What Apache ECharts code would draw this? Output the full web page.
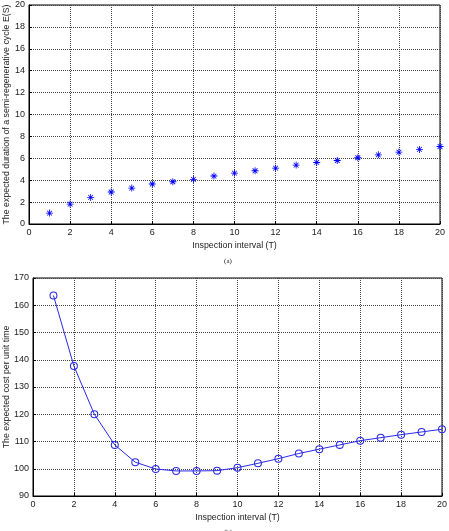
<!DOCTYPE html>
<html>
<head>
<meta charset="utf-8">
<script src="https://cdn.jsdelivr.net/npm/echarts@6/dist/echarts.min.js"></script>
<style>html,body{margin:0;padding:0;background:#fff}#c{width:449px;height:531px}</style>
</head>
<body>
<div id="c"></div>
<script>
var intervals = [1,2,3,4,5,6,7,8,9,10,11,12,13,14,15,16,17,18,19,20];
var durationES = [1.0,1.82,2.43,2.92,3.28,3.65,3.86,4.07,4.38,4.65,4.86,5.1,5.38,5.62,5.8,6.05,6.32,6.57,6.81,7.08];
var costPerTime = [163.6,137.7,120.0,108.75,102.4,99.9,99.2,99.2,99.3,100.4,102.0,103.7,105.6,107.2,108.75,110.3,111.4,112.5,113.5,114.5];
var xTicks = {min:0, max:20, interval:2};
var yTicksTop = {min:0, max:20, interval:2};
var yTicksBottom = {min:90, max:170, interval:10};

function pairs(xs, ys){ return xs.map(function(x,i){ return [x, ys[i]]; }); }

var font = 'Liberation Sans, Arial, sans-serif';
var asterisk = 'path://M4.4,0 L5.6,0 L5.6,10 L4.4,10 Z M0,4.4 L10,4.4 L10,5.6 L0,5.6 Z M1.2,2.0 L2.0,1.2 L8.8,8.0 L8.0,8.8 Z M8.0,1.2 L8.8,2.0 L2.0,8.8 L1.2,8.0 Z';
var ring = 'path://M0,5 A5,5 0 1,1 10,5 A5,5 0 1,1 0,5 Z M1.3,5 A3.7,3.7 0 1,0 8.7,5 A3.7,3.7 0 1,0 1.3,5 Z';

function xAxis(gi){
  return {
    type:'value', gridIndex:gi, min:xTicks.min, max:xTicks.max, interval:xTicks.interval,
    name:'Inspection interval (T)', nameLocation:'middle', nameGap:17, nameMoveOverlap:false,
    nameTextStyle:{fontFamily:font, fontSize:8.8, color:'#222'},
    axisLine:{lineStyle:{color:'#000', width:1}},
    axisTick:{inside:true, length:3, lineStyle:{color:'#000'}},
    axisLabel:{fontFamily:font, fontSize:9, color:'#222', margin:4},
    splitLine:{show:true, lineStyle:{color:'#444', type:[1,1], width:1}}
  };
}
function yAxis(gi, t, name, gap){
  return {
    type:'value', gridIndex:gi, min:t.min, max:t.max, interval:t.interval,
    name:name, nameLocation:'middle', nameGap:gap, nameMoveOverlap:false,
    nameTextStyle:{fontFamily:font, fontSize:8.8, color:'#222'},
    axisLine:{show:true, lineStyle:{color:'#000', width:1}},
    axisTick:{inside:true, length:3, lineStyle:{color:'#000'}},
    axisLabel:{fontFamily:font, fontSize:9, color:'#222', margin:4},
    splitLine:{show:true, lineStyle:{color:'#444', type:[1,1], width:1}}
  };
}

var chart = echarts.init(document.getElementById('c'), null, {renderer:'canvas'});
chart.setOption({
  animation:false,
  backgroundColor:'#fff',
  title:[
    {text:'(a)', left:223, top:253, textAlign:'center', textStyle:{fontFamily:'Liberation Serif, serif', fontSize:7, fontWeight:'normal', color:'#222'}},
    {text:'(b)', left:223, top:524, textAlign:'center', textStyle:{fontFamily:'Liberation Serif, serif', fontSize:7, fontWeight:'normal', color:'#222'}}
  ],
  grid:[
    {left:29, right:9, top:5, height:219, containLabel:false, outerBoundsMode:'none', show:true, borderColor:'#000', borderWidth:1, backgroundColor:'transparent'},
    {left:33, right:7, top:278, height:218, containLabel:false, outerBoundsMode:'none', show:true, borderColor:'#000', borderWidth:1, backgroundColor:'transparent'}
  ],
  xAxis:[xAxis(0), xAxis(1)],
  yAxis:[
    yAxis(0, yTicksTop, 'The expected duration of a semi-regenerative cycle E(S)', 18),
    yAxis(1, yTicksBottom, 'The expected cost per unit time', 22)
  ],
  series:[
    {type:'scatter', xAxisIndex:0, yAxisIndex:0, data:pairs(intervals, durationES),
     symbol:asterisk, symbolSize:7, itemStyle:{color:'#0000ff', opacity:1}},
    {type:'line', xAxisIndex:1, yAxisIndex:1, data:pairs(intervals, costPerTime),
     symbol:ring, symbolSize:8, showSymbol:true,
     lineStyle:{color:'#2a2ae8', width:1},
     itemStyle:{color:'#2a2ae8', borderWidth:0}}
  ]
});
</script>
</body>
</html>
